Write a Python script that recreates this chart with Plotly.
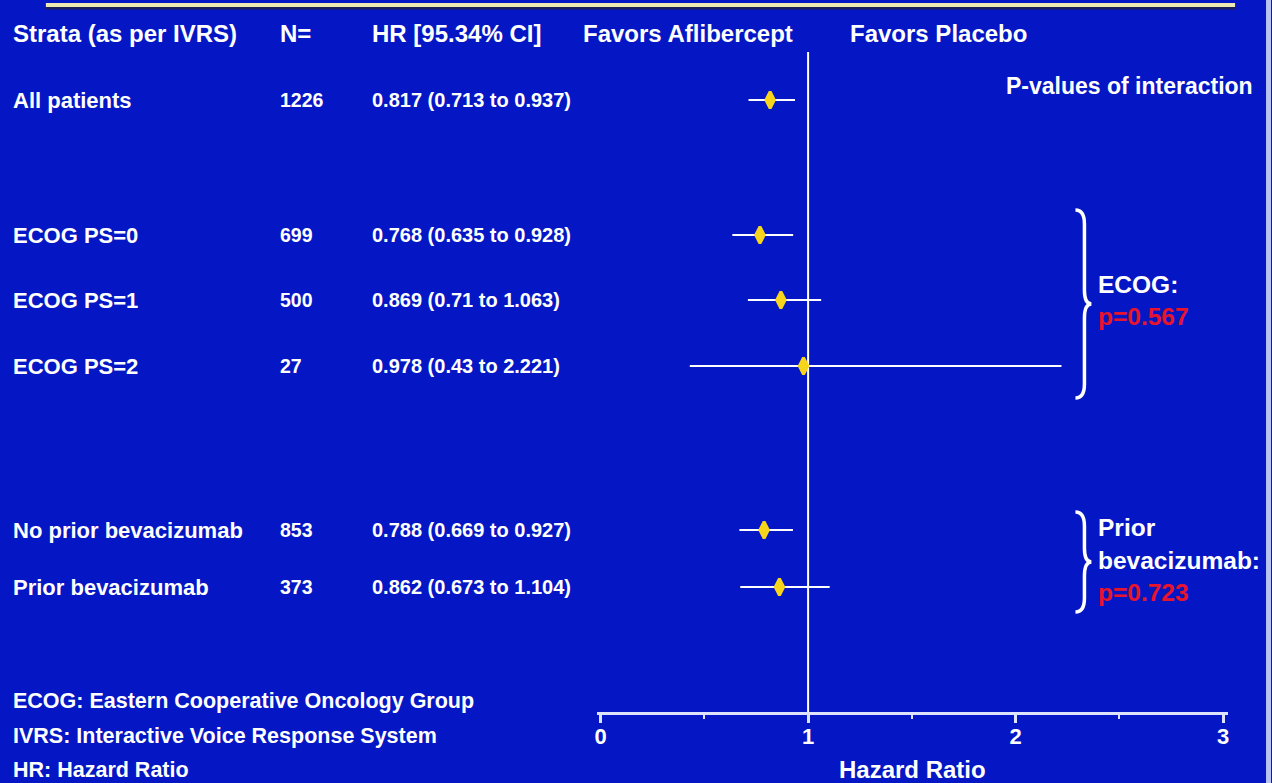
import plotly.graph_objects as go

# Forest plot: overall survival hazard ratios by stratification factor
strata = ["All patients", "ECOG PS=0", "ECOG PS=1", "ECOG PS=2",
          "No prior bevacizumab", "Prior bevacizumab"]
n_patients = [1226, 699, 500, 27, 853, 373]
hr = [0.817, 0.768, 0.869, 0.978, 0.788, 0.862]
ci_low = [0.713, 0.635, 0.71, 0.43, 0.669, 0.673]
ci_high = [0.937, 0.928, 1.063, 2.221, 0.927, 1.104]
hr_text = ["0.817 (0.713 to 0.937)", "0.768 (0.635 to 0.928)",
           "0.869 (0.71 to 1.063)", "0.978 (0.43 to 2.221)",
           "0.788 (0.669 to 0.927)", "0.862 (0.673 to 1.104)"]
x_ticks = [0, 1, 2, 3]
p_ecog = "p=0.567"
p_bev = "p=0.723"

W, H = 1272, 783
BG = "#0517c4"
WHITE = "#ffffff"
AXIS = "#dde2ff"
YELLOW = "#f7d51c"
RED = "#e8142c"
FONT = "Liberation Sans, Arial, sans-serif"

# vertical placement of the rows (y axis runs in pixel units, top = 52)
row_y = [100, 235, 300, 366, 530, 587]


def px(x):
    return x / W


def py(y):
    return 1 - y / H


fig = go.Figure()

fig.add_trace(go.Scatter(
    x=hr, y=row_y, mode="markers",
    marker=dict(symbol="diamond-tall", size=12, color=YELLOW,
                line=dict(width=3, color=YELLOW)),
    error_x=dict(type="data", symmetric=False,
                 array=[h - m for h, m in zip(ci_high, hr)],
                 arrayminus=[m - lo for m, lo in zip(hr, ci_low)],
                 color=WHITE, thickness=2, width=0),
    hoverinfo="skip", showlegend=False, cliponaxis=False,
))

ann = []


def txt(x, y, s, size=20, color=WHITE, yref="paper", xanchor="left"):
    ann.append(dict(x=px(x), y=(py(y) if yref == "paper" else y),
                    xref="paper", yref=yref, text=f"<b>{s}</b>",
                    showarrow=False, xanchor=xanchor, yanchor="middle",
                    borderpad=0, borderwidth=0,
                    font=dict(family=FONT, size=size, color=color)))


# column headers
hy = 33
txt(11, hy, "Strata (as per IVRS)", 24)
txt(279, hy, "N=", 24)
txt(371, hy, "HR [95.34% CI]", 24)
txt(582, hy, "Favors Aflibercept", 24)
txt(850, hy, "Favors Placebo", 24)

# table rows
for label, n, t, y in zip(strata, n_patients, hr_text, row_y):
    txt(11, y, label, 22, yref="y")
    txt(279, y, str(n), 19.5, yref="y")
    txt(371, y, t, 20, yref="y")

# interaction p-values
txt(1254, 86, "P-values of interaction", 23, xanchor="right")
txt(1099, 285, "ECOG:", 24.5)
txt(1099, 316, p_ecog, 24.5, color=RED)
txt(1099, 527, "Prior", 24.5)
txt(1099, 560, "bevacizumab:", 24.5)
txt(1099, 592, p_bev, 24.5, color=RED)

# footnotes
txt(11, 701, "ECOG: Eastern Cooperative Oncology Group", 21.5)
txt(11, 736, "IVRS: Interactive Voice Response System", 21.5)
txt(11, 770, "HR: Hazard Ratio", 21.5)


def brace(x0, y_top, y_bot, depth=9, tip=7):
    """Right-facing curly brace between y_top and y_bot (pixel units)."""
    ym = (y_top + y_bot) / 2
    xa, xb, xc = px(x0), px(x0 + depth), px(x0 + depth + tip)
    r = 14
    return (f"M {xa},{y_top} Q {xb},{y_top} {xb},{y_top + r} "
            f"L {xb},{ym - r} Q {xb},{ym} {xc},{ym} "
            f"Q {xb},{ym} {xb},{ym + r} "
            f"L {xb},{y_bot - r} Q {xb},{y_bot} {xa},{y_bot}")


shapes = [
    # reference line at HR = 1
    dict(type="line", xref="x", yref="y", x0=1, x1=1, y0=52, y1=712,
         line=dict(color=WHITE, width=2), layer="below"),
    # title rule at the top
    dict(type="line", xref="paper", yref="paper", x0=px(44), x1=px(1236),
         y0=py(8), y1=py(8), line=dict(color="#1a1f5a", width=3)),
    dict(type="line", xref="paper", yref="paper", x0=px(44), x1=px(1236),
         y0=py(5), y1=py(5), line=dict(color="#ece9b4", width=4)),
    # braces grouping the strata
    dict(type="path", xref="paper", yref="y",
         path=brace(1076, 210, 398), line=dict(color=WHITE, width=3.5)),
    dict(type="path", xref="paper", yref="y",
         path=brace(1076, 512, 612), line=dict(color=WHITE, width=3.5)),
    # light frame edge on the right
    dict(type="rect", xref="paper", yref="paper", x0=px(1267), x1=1,
         y0=0, y1=1, fillcolor="#b9c3ef", line=dict(width=0)),
]

fig.update_layout(
    width=W, height=H,
    margin=dict(l=0, r=0, t=0, b=0),
    paper_bgcolor=BG, plot_bgcolor=BG,
    annotations=ann, shapes=shapes,
    xaxis=dict(
        domain=[px(596), px(1229)],
        range=[-4 / 208, 629 / 208],
        tickmode="array", tickvals=x_ticks,
        ticktext=[f"<b>{v}</b>" for v in x_ticks],
        tickfont=dict(family=FONT, size=22, color=WHITE),
        ticklabelstandoff=-5,
        showline=True, linecolor=AXIS, linewidth=3,
        ticks="outside", ticklen=8, tickwidth=3, tickcolor=AXIS,
        minor=dict(tickvals=[0.5, 1.5, 2.5], ticks="outside", ticklen=4,
                   tickwidth=2, tickcolor=AXIS),
        showgrid=False, zeroline=False, fixedrange=True,
        title=dict(text="<b>Hazard Ratio</b>", standoff=14,
                   font=dict(family=FONT, size=24, color=WHITE)),
    ),
    yaxis=dict(
        domain=[py(712), py(52)],
        range=[712, 52],
        visible=False, fixedrange=True,
    ),
)

fig.write_html("out.html")
